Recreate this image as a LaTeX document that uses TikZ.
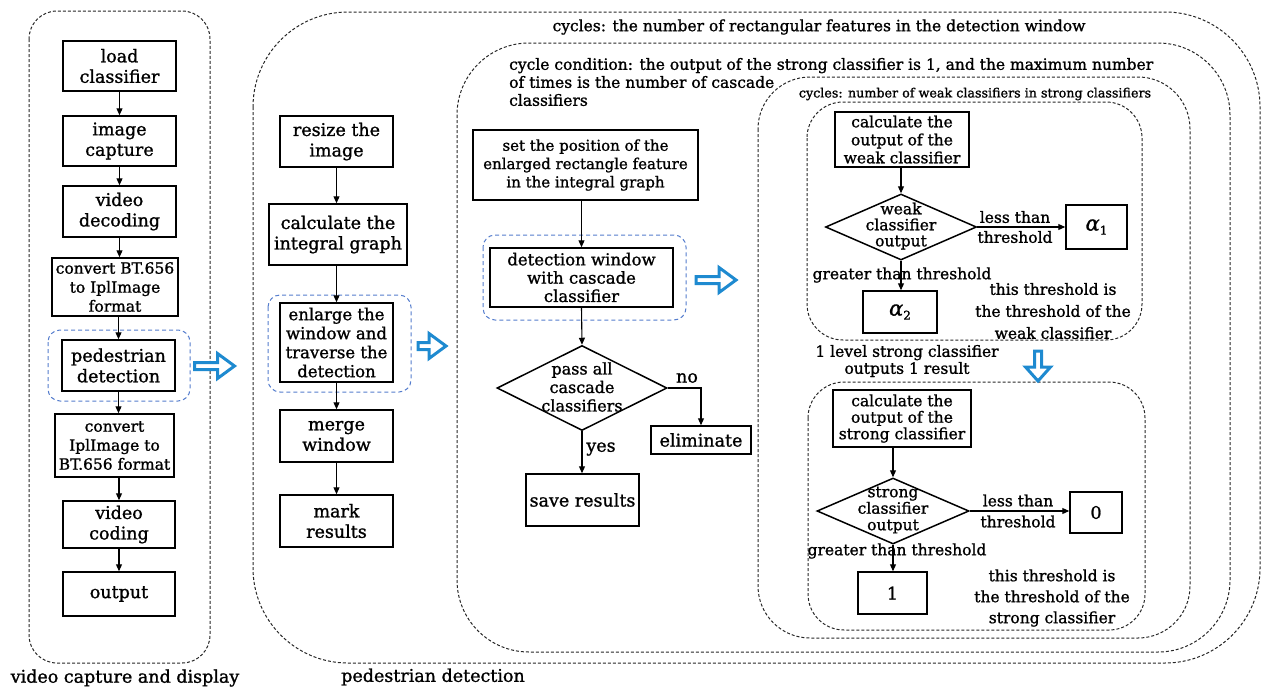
\documentclass[tikz,border=0pt]{standalone}
\usepackage{fontspec}
\setmainfont{DejaVu Serif}[FakeBold=1.2]
\usetikzlibrary{shapes.geometric,arrows.meta}
\definecolor{arrowblue}{RGB}{30,138,208}
\definecolor{dashblue}{RGB}{85,125,205}
\newcommand\FBig{\fontsize{17.5}{20.5}\selectfont}
\newcommand\FMid{\fontsize{16.5}{19}\selectfont}
\newcommand\FMed{\fontsize{15.5}{18}\selectfont}
\newcommand\FSm{\fontsize{12.7}{15}\selectfont}
\newcommand\AlphaSub[1]{{\fontsize{21}{21}\selectfont\itshape α}\raisebox{-4pt}{\fontsize{12}{12}\selectfont #1}}
\tikzset{
  box/.style={draw, line width=1.5pt, inner sep=0pt, align=center},
  dia/.style={draw, diamond, line width=1.5pt, inner sep=0pt},
  txt/.style={inner sep=0pt, align=center},
  conn/.style={draw, line width=1.1pt, -{Triangle[length=7pt,width=6pt]}},
  dbox/.style={draw=black!85, line width=1pt, dash pattern=on 3pt off 2pt},
  bbox/.style={draw=dashblue, line width=1pt, dash pattern=on 4pt off 3pt, rounded corners=12pt},
  barrow/.style={draw=arrowblue, fill=white, line width=3pt, line join=miter},
}
\newcommand\BArR[3]{\draw[barrow,shift={(#1,#2)}] (-#3,-3.5) -- (#3-17,-3.5) -- (#3-17,-12.5) -- (#3,0) -- (#3-17,12.5) -- (#3-17,3.5) -- (-#3,3.5) -- cycle;}
\begin{document}
\begin{tikzpicture}[x=1pt,y=-1pt]
\useasboundingbox (0,0) rectangle (1268,691);

% ---------- containers ----------
\draw[dbox, rounded corners=28pt] (29,11) rectangle (210,663);
\draw[dbox, rounded corners=95pt] (253,12) rectangle (1260,663);
\draw[dbox, rounded corners=72pt] (457,43) rectangle (1230,652);
\draw[dbox, rounded corners=52pt] (758,77) rectangle (1190,638);
\draw[dbox, rounded corners=36pt] (807,102) rectangle (1142,340);
\draw[dbox, rounded corners=36pt] (808,382) rectangle (1145,630);

\draw[bbox] (48,330) rectangle (190,401);
\draw[bbox] (268,295) rectangle (411,392);
\draw[bbox] (483,235) rectangle (686,320);

% ---------- left column ----------
\node[box, minimum width=113pt, minimum height=50pt, font=\FBig] (lc) at (119.5,66) {load\\classifier};
\node[box, minimum width=113pt, minimum height=50pt, font=\FBig] (ic) at (119.5,141) {image\\capture};
\node[box, minimum width=113pt, minimum height=51pt, font=\FBig] (vd) at (119.5,211.5) {video\\decoding};
\node[box, minimum width=126pt, minimum height=58pt, font=\fontsize{15.5}{19}\selectfont] (cb) at (115,287) {convert BT.656\\to IplImage\\format};
\node[box, minimum width=113pt, minimum height=51pt, font=\FBig] (pd) at (118.5,365.5) {pedestrian\\detection};
\node[box, minimum width=119pt, minimum height=63pt, font=\fontsize{15.5}{19}\selectfont] (ci) at (114.5,445.5) {convert\\IplImage to\\BT.656 format};
\node[box, minimum width=112pt, minimum height=47pt, font=\FBig] (vc) at (119,524.5) {video\\coding};
\node[box, minimum width=112pt, minimum height=44pt, font=\FBig] (out) at (119,594) {output};

\draw[conn] (lc.south) -- (ic.north);
\draw[conn] (ic.south) -- (vd.north);
\draw[conn] (vd.south) -- (vd.south |- cb.north);
\draw[conn] (pd.north |- cb.south) -- (pd.north);
\draw[conn] (pd.south) -- (pd.south |- ci.north);
\draw[conn] (vc.north |- ci.south) -- (vc.north);
\draw[conn] (vc.south) -- (out.north);

\node[txt, font=\FBig] (lab1) at (125,678) {video capture and display};

% ---------- middle column ----------
\node[box, minimum width=113pt, minimum height=51pt, font=\FBig] (rs) at (336.5,141.5) {resize the\\image};
\node[box, minimum width=138pt, minimum height=61pt, font=\FBig] (cg) at (338,234.5) {calculate the\\integral graph};
\node[box, minimum width=113pt, minimum height=79pt, font=\FMid] (ew) at (336.5,342.5) {enlarge the\\window and\\traverse the\\detection};
\node[box, minimum width=113pt, minimum height=52pt, font=\FBig] (mw) at (336.5,436) {merge\\window};
\node[box, minimum width=113pt, minimum height=52pt, font=\FBig] (mr) at (336.5,521) {mark\\results};

\draw[conn] (rs.south) -- (rs.south |- cg.north);
\draw[conn] (ew.north |- cg.south) -- (ew.north);
\draw[conn] (ew.south) -- (mw.north);
\draw[conn] (mw.south) -- (mr.north);

\node[txt, font=\FBig] (lab2) at (433,677) {pedestrian detection};

% ---------- cascade column ----------
\node[txt, font=\FMed] (lab3) at (819,27) {cycles: the number of rectangular features in the detection window};
\node[txt, font=\FMed, align=left, anchor=west] (lab4) at (509,82) {cycle condition: the output of the strong classifier is 1, and the maximum number\\of times is the number of cascade\\classifiers};

\node[box, minimum width=225pt, minimum height=70pt, font=\fontsize{15}{18.3}\selectfont] (sp) at (585.5,165) {set the position of the\\enlarged rectangle feature\\in the integral graph};
\node[box, minimum width=183pt, minimum height=59pt, font=\fontsize{16.5}{18.3}\selectfont] (dw) at (581.5,277.5) {detection window\\with cascade\\classifier};
\node[dia, minimum width=170pt, minimum height=85pt] (pa) at (582,388) {};
\node[txt, font=\fontsize{16}{18.5}\selectfont] (pat) at (582,387) {pass all\\cascade\\classifiers};
\node[box, minimum width=100pt, minimum height=28pt, font=\FBig] (el) at (701,440) {eliminate};
\node[box, minimum width=113pt, minimum height=52pt, font=\FBig] (sr) at (582.5,500) {save results};

\draw[conn] (dw.north |- sp.south) -- (dw.north);
\draw[conn] (dw.south) -- (pa.north);
\draw[conn] (pa.south) -- (pa.south |- sr.north);
\draw[conn] (pa.east) -| (el.north);
\node[txt, font=\FBig] (no) at (687,378) {no};
\node[txt, font=\FBig] (yes) at (601,449) {yes};

% ---------- weak classifier loop ----------
\node[txt, font=\FSm] (lab5) at (975,94) {cycles: number of weak classifiers in strong classifiers};
\node[box, minimum width=134pt, minimum height=55pt, font=\fontsize{15.5}{18}\selectfont] (cw) at (902,139.5) {calculate the\\output of the\\weak classifier};
\node[dia, minimum width=151pt, minimum height=66pt] (wd) at (901,227) {};
\node[txt, font=\fontsize{15.5}{16}\selectfont] (wdt) at (901,226) {weak\\classifier\\output};
\node[box, minimum width=61pt, minimum height=44pt] (a1) at (1096.5,227) {\AlphaSub{1}};
\node[box, minimum width=74pt, minimum height=42pt] (a2) at (900,312) {\AlphaSub{2}};
\draw[conn] (wd.north |- cw.south) -- (wd.north);
\draw[conn] (wd.east) -- (a1.west);
\draw[conn] (wd.south) -- (wd.south |- a2.north);
\node[txt, font=\fontsize{15.5}{20}\selectfont] (lt1) at (1015,227) {less than\\threshold};
\node[txt, font=\FMed] (gt1) at (902,275) {greater than threshold};
\node[txt, font=\fontsize{15.5}{22}\selectfont] (th1) at (1053,311) {this threshold is\\the threshold of the\\weak classifier};

% ---------- between ----------
\node[txt, font=\fontsize{15.5}{17}\selectfont] (lab6) at (907,361) {1 level strong classifier\\outputs 1 result};
\draw[barrow, shift={(1038,366)}] (-3.5,-15) -- (-3.5,1) -- (-12.5,1) -- (0,15) -- (12.5,1) -- (3.5,1) -- (3.5,-15) -- cycle;

% ---------- strong classifier ----------
\node[box, minimum width=138pt, minimum height=57pt, font=\fontsize{15.5}{16.5}\selectfont] (cs) at (902,418.5) {calculate the\\output of the\\strong classifier};
\node[dia, minimum width=152pt, minimum height=66pt] (sd) at (893,511) {};
\node[txt, font=\fontsize{15.5}{16.5}\selectfont] (sdt) at (893,510) {strong\\classifier\\output};
\node[box, minimum width=52pt, minimum height=41pt, font=\FBig] (z0) at (1096,512.5) {0};
\node[box, minimum width=69pt, minimum height=42pt, font=\FBig] (o1) at (892.5,593) {1};
\draw[conn] (sd.north |- cs.south) -- (sd.north);
\draw[conn] (sd.east) -- (sd.east -| z0.west);
\draw[conn] (sd.south) -- (sd.south |- o1.north);
\node[txt, font=\fontsize{15.5}{21}\selectfont] (lt2) at (1018,511) {less than\\threshold};
\node[txt, font=\FMed] (gt2) at (897,551) {greater than threshold};
\node[txt, font=\fontsize{15.5}{21}\selectfont] (th2) at (1052,598) {this threshold is\\the threshold of the\\strong classifier};

% ---------- blue arrows ----------
\BArR{214.5}{366}{20}
\BArR{432}{346}{14}
\BArR{716}{280}{20}
\end{tikzpicture}
\end{document}
